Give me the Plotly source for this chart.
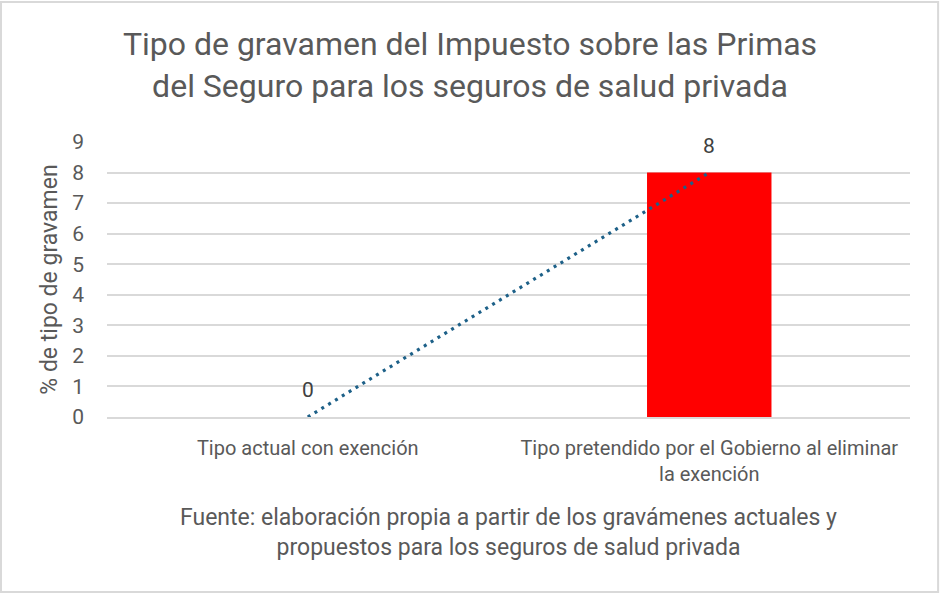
import plotly.graph_objects as go

categories = ["Tipo actual con exención", "Tipo pretendido por el Gobierno al eliminar<br>la exención"]
values = [0, 8]
y_ticks = list(range(0, 10))

title_text = "Tipo de gravamen del Impuesto sobre las Primas<br>del Seguro para los seguros de salud privada"
x_title = "Fuente: elaboración propia a partir de los gravámenes actuales y<br>propuestos para los seguros de salud privada"
y_title = "% de tipo de gravamen"

FONT = "Roboto"
GREY = "#595959"

fig = go.Figure()
fig.add_trace(go.Bar(
    x=categories, y=values,
    marker=dict(color="#FF0000", line=dict(width=0)),
    showlegend=False,
))
fig.add_trace(go.Scatter(
    x=categories, y=values, mode="lines",
    line=dict(color="#1D6088", width=3.2, dash="3px,5px"),
    showlegend=False, hoverinfo="skip",
))

annotations = [
    dict(x=c, y=v, text=str(v), showarrow=False, yanchor="bottom", yshift=13,
         font=dict(family=FONT, size=21, color="#404040"))
    for c, v in zip(categories, values)
]

fig.update_layout(
    width=940, height=594,
    paper_bgcolor="white", plot_bgcolor="white",
    margin=dict(l=107, r=30, t=142, b=177),
    bargap=0.69,
    title=dict(text=title_text, x=0.5, xanchor="center", y=0.907, yanchor="top",
               font=dict(family=FONT, size=32, color=GREY)),
    font=dict(family=FONT, color=GREY),
    xaxis=dict(
        tickfont=dict(family=FONT, size=20, color=GREY),
        title=dict(text=x_title, font=dict(family=FONT, size=23, color=GREY), standoff=24),
        showline=True, linecolor="#D9D9D9", linewidth=1.5, ticks="",
        ticklabelstandoff=12,
    ),
    yaxis=dict(
        range=[0, 9], tickvals=y_ticks, ticktext=[str(t) for t in y_ticks],
        tickfont=dict(family=FONT, size=21, color=GREY),
        showgrid=True, gridcolor="#D9D9D9", gridwidth=1.5, zeroline=False,
        title=dict(text=y_title, font=dict(family=FONT, size=23, color=GREY), standoff=8),
        ticks="", ticklabelstandoff=22,
    ),
    annotations=annotations,
    shapes=[dict(type="rect", xref="paper", yref="paper", x0=-0.132, x1=1.035, y0=-0.636, y1=1.509,
                 line=dict(color="#D9D9D9", width=2), layer="below")],
)

fig.write_html("out.html")
